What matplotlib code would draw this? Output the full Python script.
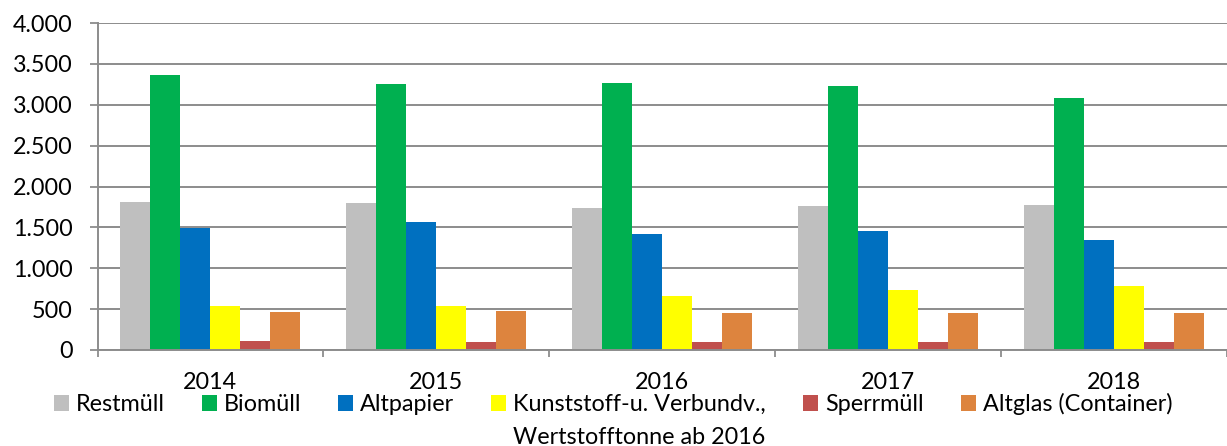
import matplotlib
matplotlib.use("Agg")
import matplotlib.pyplot as plt
import numpy as np
from matplotlib.ticker import FuncFormatter, FixedLocator

years = ["2014", "2015", "2016", "2017", "2018"]
restmuell = [1806, 1799, 1741, 1766, 1774]
biomuell = [3365, 3255, 3271, 3226, 3079]
altpapier = [1497, 1566, 1423, 1456, 1350]
kunststoff = [534, 542, 665, 730, 778]
sperrmuell = [105, 93, 98, 93, 98]
altglas = [469, 473, 457, 457, 448]

series = [
    ("Restmüll", restmuell, "#BFBFBF"),
    ("Biomüll", biomuell, "#00B050"),
    ("Altpapier", altpapier, "#0070C0"),
    ("Kunststoff-u. Verbundv.,", kunststoff, "#FFFF00"),
    ("Sperrmüll", sperrmuell, "#C0504D"),
    ("Altglas (Container)", altglas, "#DD843E"),
]
wrap_line = "Wertstofftonne ab 2016"

plt.rcParams["font.family"] = ["Lato", "DejaVu Sans"]
FS = 16.8
GRID = "#8C8C8C"

fig = plt.figure(figsize=(12.27, 4.46), dpi=100)
ax = fig.add_axes([97.5 / 1227, (446 - 350) / 446, 1129 / 1227, 327 / 446])

x = np.arange(len(years))
width = 0.1329
for j, (label, vals, color) in enumerate(series):
    ax.bar(x + (j - 2.5) * width, vals, width, color=color, label=label, zorder=3)

ax.set_xlim(-0.5, len(years) - 0.5)
ax.set_ylim(0, 4000)
ax.set_yticks(np.arange(0, 4001, 500))
ax.yaxis.set_major_formatter(FuncFormatter(lambda v, _: f"{int(v):,}".replace(",", ".")))
ax.yaxis.grid(True, color=GRID, linewidth=1.4, zorder=0)

# year labels in the middle, tick marks on the category borders
ax.xaxis.set_major_locator(FixedLocator(np.arange(-0.5, len(years), 1.0)))
ax.xaxis.set_minor_locator(FixedLocator(x))
ax.set_xticklabels([])
ax.set_xticklabels(years, minor=True)
ax.tick_params(axis="x", which="major", length=5, width=1.3, color=GRID, direction="out")
ax.tick_params(axis="x", which="minor", length=0, pad=16, labelsize=FS)
ax.tick_params(axis="y", length=6, width=1.3, color=GRID, pad=12, labelsize=FS)

for side in ("top", "right"):
    ax.spines[side].set_visible(False)
for side in ("left", "bottom"):
    ax.spines[side].set_color(GRID)
    ax.spines[side].set_linewidth(1.4)
ax.spines["bottom"].set_zorder(4)

leg = fig.legend(loc="center", bbox_to_anchor=(613 / 1227, 42 / 446), ncol=6,
                 frameon=False, fontsize=FS, handlelength=0.65, handleheight=0.65,
                 handletextpad=0.3, columnspacing=1.58, borderpad=0, borderaxespad=0)

fig.canvas.draw()
bb = leg.get_texts()[3].get_window_extent()
fig.text(bb.x0 / fig.bbox.width, (bb.y0 - 32.5) / fig.bbox.height, wrap_line,
         fontsize=FS, ha="left", va="bottom")

fig.savefig("out.png", dpi=100)
